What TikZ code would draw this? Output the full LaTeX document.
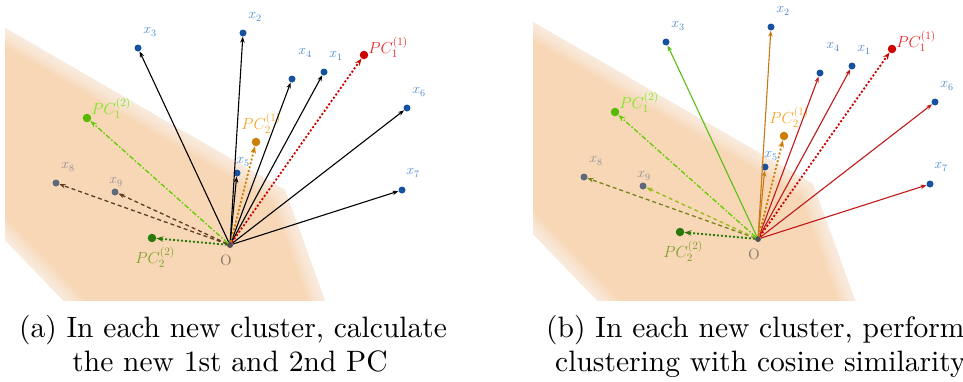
\RequirePackage{fix-cm}
\documentclass[tikz,border=0pt]{standalone}
\usepackage{fontspec}
\usepackage{tikz}
\usetikzlibrary{arrows.meta}
\newfontfamily\capfont[Extension=.otf]{lmroman10-regular}
\definecolor{bandOrange}{RGB}{248,215,182}
\definecolor{ptBlue}{RGB}{22,82,160}
\definecolor{lblBlue}{RGB}{70,135,210}
\definecolor{ptGray}{RGB}{95,105,125}
\definecolor{lblGray}{RGB}{140,140,152}
\definecolor{oGray}{RGB}{80,80,85}
\definecolor{lblO}{RGB}{140,125,110}
\definecolor{pcRed}{RGB}{205,0,0}
\definecolor{lblRed}{RGB}{235,40,40}
\definecolor{pcOrange}{RGB}{205,125,0}
\definecolor{lblOrange}{RGB}{245,165,40}
\definecolor{pcGreen}{RGB}{95,205,0}
\definecolor{lblGreen}{RGB}{120,235,30}
\definecolor{pcDark}{RGB}{40,120,10}
\definecolor{lblOlive}{RGB}{125,160,45}
\definecolor{dashBrown}{RGB}{95,60,30}
\definecolor{dashOlive}{RGB}{115,130,25}
\definecolor{dashLime}{RGB}{150,190,25}
\definecolor{vecRed}{RGB}{190,25,25}
\definecolor{vecOrange}{RGB}{200,120,20}
\definecolor{vecGreen}{RGB}{90,190,20}
\tikzset{
  xpt/.style={circle,fill=ptBlue,inner sep=0pt,minimum size=7pt},
  pcpt/.style={circle,inner sep=0pt,minimum size=8.5pt},
  opt/.style={circle,fill=oGray,inner sep=0pt,minimum size=6pt},
  vec/.style={-{Stealth[length=6pt,width=4.5pt]},line width=1.1pt},
  dvec/.style={-{Stealth[length=6pt,width=4.5pt]},line width=1.3pt,dash pattern=on 4pt off 3pt},
  pcvec/.style={-{Stealth[length=7pt,width=5.5pt]},line width=1.8pt,dash pattern=on 2pt off 2pt},
  ddvec/.style={-{Stealth[length=7pt,width=5pt]},line width=1.3pt,dash pattern=on 5pt off 2pt on 1.5pt off 2pt},
  xlbl/.style={font=\fontsize{14}{14}\selectfont,text=lblBlue,inner sep=0pt},
  pclbl/.style={font=\fontsize{16}{16}\selectfont,inner sep=0pt},
  olbl/.style={font=\capfont\fontsize{15}{15}\selectfont,text=lblO,inner sep=0pt},
  captxt/.style={font=\capfont\fontsize{29.5}{32}\selectfont,inner sep=0pt},
}
\begin{document}
\begin{tikzpicture}[x=1pt,y=-1pt]
\useasboundingbox (0,0) rectangle (963,381);
% two panels, same points
\foreach \p/\dx/\dy/\cy in {a/0/0/300,b/528/-6/306}{
  \begin{scope}[shift={(\dx,\dy)}]
    \begin{scope}
      \clip (-10,-10) rectangle (440,\cy);
      \clip (5,28) -- (285,190) -- (332,320) -- (82,320) -- (5,240) -- cycle;
      \fill[bandOrange] (0,0) rectangle (440,330);
      \foreach \w in {2,5,...,32}
        \draw[white,opacity=.08,line width=\w pt]
          (-20,16) -- (5,28) -- (285,190) -- (332,320) (82,320) -- (5,240) -- (-20,215);
    \end{scope}
    \node[opt] (\p O) at (230,245) {};
    \foreach \n/\x/\y in {x1/324/72,x2/243/33,x3/138/48,x4/292/79,x5/237/173,x6/407/108,x7/402/190}
      \node[xpt] (\p\n) at (\x,\y) {};
    \foreach \n/\x/\y in {x8/56/183,x9/115/192}
      \node[xpt,fill=ptGray] (\p\n) at (\x,\y) {};
    \node[pcpt,fill=pcRed] (\p pc11) at (364,55) {};
    \node[pcpt,fill=pcOrange] (\p pc21) at (256,142) {};
    \node[pcpt,fill=pcGreen!90!black] (\p pc12) at (87,118) {};
    \node[pcpt,fill=pcDark] (\p pc22) at (152,238) {};
    % labels
    \foreach \i/\x/\y in {1/336/56,2/255/17,3/150/32,4/305/53,5/243/162,6/419/92,7/413/173}
      \node[xlbl] (\p l\i) at (\x,\y) {$x_{\i}$};
    \foreach \i/\x/\y in {8/68/167,9/116/182}
      \node[xlbl,text=lblGray] (\p l\i) at (\x,\y) {$x_{\i}$};
    \node[pclbl,text=lblRed] (\p lpc11) at (388,47) {$PC_1^{(1)}$};
    \node[pclbl,text=lblOrange] (\p lpc21) at (261,123) {$PC_2^{(1)}$};
    \node[pclbl,text=lblGreen] (\p lpc12) at (111,108) {$PC_1^{(2)}$};
    \node[pclbl,text=lblOlive] (\p lpc22) at (155,257) {$PC_2^{(2)}$};
    \node[olbl] (\p lO) at (226,260) {O};
  \end{scope}
}
% (a) data vectors
\foreach \n in {x1,x2,x3,x4,x5,x6,x7}
  \draw[vec] (aO) -- (a\n);
\foreach \n in {x8,x9}
  \draw[dvec,dashBrown] (aO) -- (a\n);
% (b) coloured by cluster
\foreach \n/\c in {x1/vecRed,x4/vecRed,x6/vecRed,x7/vecRed,x2/vecOrange,x5/vecOrange,x3/vecGreen}
  \draw[vec,\c] (bO) -- (b\n);
\draw[dvec,dashOlive] (bO) -- (bx8);
\draw[dvec,dashLime] (bO) -- (bx9);
% principal components
\foreach \p in {a,b}{
  \draw[pcvec,pcRed] (\p O) -- (\p pc11);
  \draw[pcvec,pcOrange] (\p O) -- (\p pc21);
  \draw[pcvec,pcDark] (\p O) -- (\p pc22);
  \draw[ddvec,pcGreen] (\p O) -- (\p pc12);
}
% captions
\node[captxt,anchor=base] (capa1) at (233,337) {(a) In each new cluster, calculate};
\node[captxt,anchor=base] (capa2) at (230,371) {the new 1st and 2nd PC};
\node[captxt,anchor=base west] (capb1) at (546,337) {(b) In each new cluster, perform};
\node[captxt,anchor=base west] (capb2) at (555,371) {clustering with cosine similarity};
\end{tikzpicture}
\end{document}
